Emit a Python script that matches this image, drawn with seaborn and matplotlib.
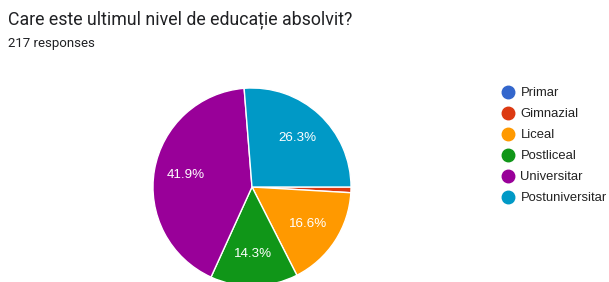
import matplotlib
matplotlib.use("Agg")
import matplotlib.pyplot as plt
from matplotlib.lines import Line2D
import seaborn as sns

# data
categories = ["Primar", "Gimnazial", "Liceal", "Postliceal", "Universitar", "Postuniversitar"]
counts = [0, 2, 36, 31, 91, 57]
colors = ["#3366cc", "#dc3912", "#ff9900", "#109618", "#990099", "#0099c6"]
title = "Care este ultimul nivel de educație absolvit?"
subtitle = "217 responses"

sns.set_theme(style="white")
plt.rcParams["font.family"] = ["Liberation Sans", "DejaVu Sans"]

fig = plt.figure(figsize=(6.09, 2.82), dpi=100)
ax = fig.add_axes([152 / 609, -5 / 282, 200 / 609, 200 / 282])

# keep non-zero slices only for drawing
vals = [c for c in counts if c > 0]
cols = [col for c, col in zip(counts, colors) if c > 0]


def pct(p):
    return f"{p:.1f}%" if p > 5 else ""


wedges, texts, autotexts = ax.pie(
    vals, colors=cols, startangle=0, counterclock=False,
    autopct=pct, pctdistance=0.68,
    wedgeprops=dict(edgecolor="white", linewidth=1),
    textprops=dict(color="white", fontsize=9.6),
)
ax.set_xlim(-1.01, 1.01)
ax.set_ylim(-1.01, 1.01)

fig.text(8 / 609, 1 - 20 / 282, title, fontsize=12.8, color="#202124",
         va="center", ha="left", family=["Roboto", "DejaVu Sans"])
fig.text(8 / 609, 1 - 44 / 282, subtitle, fontsize=9.5, color="#202124",
         va="center", ha="left", family=["Roboto", "DejaVu Sans"])

handles = [Line2D([], [], marker="o", linestyle="", markersize=9,
                  markerfacecolor=c, markeredgecolor=c) for c in colors]
fig.legend(handles, categories, loc="upper left",
           bbox_to_anchor=(495 / 609, 1 - 82 / 282), frameon=False,
           fontsize=9.4, labelspacing=0.68, handletextpad=0.35,
           handlelength=1.2, labelcolor="#222222", borderaxespad=0)

fig.savefig("out.png", dpi=100, facecolor="white")
